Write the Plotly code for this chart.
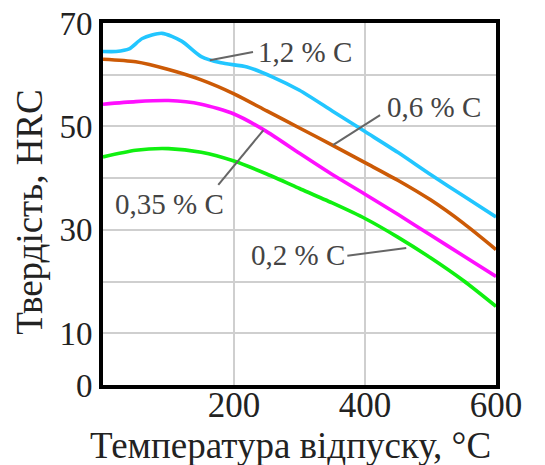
import plotly.graph_objects as go

temps = [0, 20, 40, 60, 90, 120, 150, 180, 220, 260, 300, 350, 400, 450, 500, 550, 600]
hrc_12 = [64.5, 64.5, 65, 67, 68, 66.5, 63.5, 62.3, 61.5, 59.5, 57, 53, 49, 45, 40.7, 36.6, 32.5]

temps_b = [0, 50, 100, 150, 200, 250, 300, 350, 400, 450, 500, 550, 600]
hrc_06 = [63, 62.5, 61, 59, 56.3, 53, 49.7, 46.4, 43, 39.6, 35.8, 31.3, 26.2]
hrc_035 = [54.3, 54.8, 55, 54.3, 52.4, 49, 44.8, 40.7, 36.9, 33, 29, 25, 21]
hrc_02 = [44.1, 45.4, 45.7, 45, 43.3, 40.8, 38, 35.2, 32.2, 28.6, 24.6, 20.2, 15.2]

x_tickvals = [200, 400, 600]
x_ticktext = ["200", "400", "600"]
y_tickvals = [0, 10, 20, 30, 40, 50, 60, 70]
y_ticktext = ["0", "10", "", "30", "", "50", "", "70"]

x_title = "Температура відпуску, °C"
y_title = "Твердість, HRC"

labels = ["1,2 % C", "0,6 % C", "0,35 % C", "0,2 % C"]
# leader line: from point on curve to text side
label_curve_pts = [(163, 62.8), (351, 46.4), (245, 49.3), (463, 26.5)]
label_line_ends = [(229, 64.4), (423, 52.2), (176, 38.7), (373, 25.0)]
label_text_pts = [(233, 64.4), (430, 53.8), (102, 35.0), (372, 25.1)]

FONT = "Liberation Serif"

fig = go.Figure()
series = [
    (temps, hrc_12, "#22C6FF"),
    (temps_b, hrc_06, "#CC5A06"),
    (temps_b, hrc_035, "#FF10FF"),
    (temps_b, hrc_02, "#10F010"),
]
for xs, ys, col in series:
    fig.add_trace(go.Scatter(x=xs, y=ys, mode="lines",
                             line=dict(color=col, width=3.6, shape="spline", smoothing=0.7),
                             showlegend=False, hoverinfo="skip", cliponaxis=True))

anchors = ["left", "left", "center", "right"]
for lab, (cx, cy), (ex, ey), (tx, ty), xa in zip(labels, label_curve_pts, label_line_ends, label_text_pts, anchors):
    fig.add_shape(type="line", x0=cx, y0=cy, x1=ex, y1=ey, xref="x", yref="y",
                  line=dict(color="#666666", width=2))
    fig.add_annotation(x=tx, y=ty, xref="x", yref="y", text=lab, showarrow=False,
                       xanchor=xa, yanchor="middle", font=dict(family=FONT, size=29, color="#444444"))

fig.add_annotation(x=0.476, y=-0.166, xref="paper", yref="paper", text=x_title, showarrow=False,
                   xanchor="center", yanchor="middle", font=dict(family=FONT, size=37, color="#222222"))
fig.add_annotation(x=-0.186, y=0.478, xref="paper", yref="paper", text=y_title, showarrow=False,
                   textangle=-90, xanchor="center", yanchor="middle",
                   font=dict(family=FONT, size=37, color="#222222"))

fig.update_layout(
    width=545, height=465,
    margin=dict(l=95, r=57, t=15, b=88),
    paper_bgcolor="white", plot_bgcolor="white",
    font=dict(family=FONT, size=35, color="#222222"),
)
fig.update_xaxes(range=[0, 600], tickvals=x_tickvals, ticktext=x_ticktext,
                 showgrid=True, gridcolor="#CFCFCF", gridwidth=2,
                 showline=True, linecolor="black", linewidth=4, mirror=True,
                 ticks="", zeroline=False, automargin=False, ticklabelstandoff=-14,
                 ticklabeloverflow="allow",
                 tickfont=dict(family=FONT, size=35))
fig.update_yaxes(range=[0, 70], tickvals=y_tickvals, ticktext=y_ticktext,
                 showgrid=True, gridcolor="#CFCFCF", gridwidth=2,
                 showline=True, linecolor="black", linewidth=4, mirror=True,
                 ticks="", zeroline=False, automargin=False,
                 ticklabeloverflow="allow",
                 tickfont=dict(family=FONT, size=33))

fig.write_html("out.html")
